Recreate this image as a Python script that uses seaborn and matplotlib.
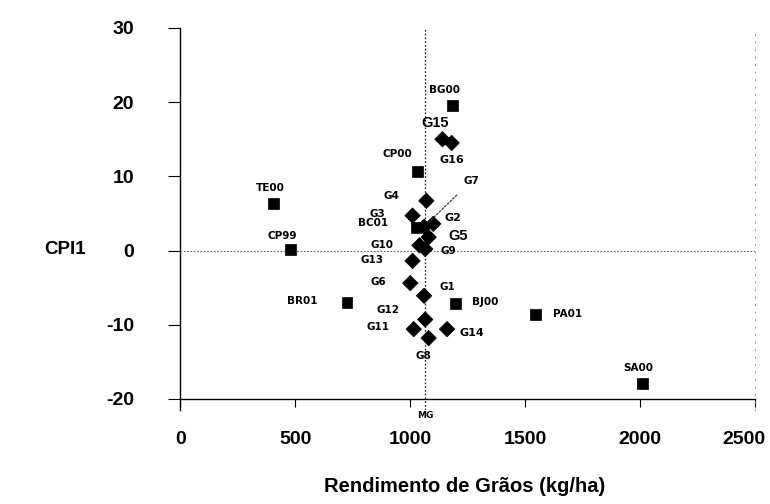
import numpy as np
import pandas as pd
import seaborn as sns
import matplotlib.pyplot as plt
import matplotlib.transforms as mtransforms

# data
env_names = ["BG00", "CP00", "TE00", "CP99", "BC01", "BR01", "BJ00", "PA01", "SA00"]
env_yield = [1185, 1030, 405, 480, 1025, 725, 1195, 1545, 2010]
env_cpi = [19.5, 10.7, 6.3, 0.1, 3.1, -7.0, -7.2, -8.6, -17.9]

gen_names = ["G15", "G16", "G7", "G4", "G3", "G2", "G5", "G10", "G9",
             "G13", "G6", "G1", "G12", "G11", "G14", "G8"]
gen_yield = [1140, 1180, 1060, 1070, 1010, 1100, 1080, 1040, 1065,
             1010, 1000, 1060, 1065, 1015, 1160, 1080]
gen_cpi = [15.0, 14.5, 3.2, 6.7, 4.7, 3.6, 1.8, 0.7, 0.2,
           -1.4, -4.4, -6.1, -9.3, -10.6, -10.6, -11.8]

mg_yield = 1065

df = pd.DataFrame({
    "nome": env_names + gen_names,
    "rend": env_yield + gen_yield,
    "cpi": env_cpi + gen_cpi,
    "tipo": ["amb"] * len(env_names) + ["gen"] * len(gen_names),
})

# label offsets in points (dx, dy)
offs = {
    "BG00": (-6, 11.5), "CP00": (-14, 12), "TE00": (-2, 11.5), "CP99": (-6, 10),
    "BC01": (-31, 3), "BR01": (-32, 1), "BJ00": (22, 1.5), "PA01": (23, 0.5),
    "SA00": (-3.5, 11), "G15": (-5, 11.5), "G16": (0, -12), "G4": (-25, 3.5),
    "G3": (-25, 1.5), "G2": (14.5, 4), "G5": (21, 1), "G10": (-27, 0),
    "G9": (16.5, -1.5), "G13": (-29, 0.7), "G6": (-23, 0.7), "G1": (17, 6.5),
    "G12": (-26.5, 6.5), "G11": (-26, 1.5), "G14": (18, -3), "G8": (-3.5, -13),
}
big = {"G2", "G16", "G14"}

sns.set_style("white")
plt.rcParams["font.family"] = ["Liberation Sans", "DejaVu Sans"]
plt.rcParams["axes.unicode_minus"] = False
for k in ["text.color", "axes.labelcolor", "xtick.color", "ytick.color"]:
    plt.rcParams[k] = "black"

fig = plt.figure(figsize=(7.7, 5.04), dpi=100)
ax = fig.add_axes([0.234, 0.1865, 0.747, 0.758])

ax.axhline(0, color="#666666", lw=0.8, ls=(0, (1.5, 1.5)), zorder=1)
ax.axvline(mg_yield, color="#222222", lw=0.9, ls=(0, (1.5, 1.5)), zorder=1)

sns.scatterplot(data=df, x="rend", y="cpi", style="tipo",
                markers={"amb": "s", "gen": "D"}, color="black",
                s=62, edgecolor="black", linewidth=0.5, legend=False,
                ax=ax, zorder=3)

lab_font = ["DejaVu Sans"]
for n, x, y in zip(df["nome"], df["rend"], df["cpi"]):
    if n == "G7":
        ax.annotate("G7", xy=(x, y), xytext=(34, 33), textcoords="offset points",
                    ha="center", va="center", fontsize=7.5, fontweight="bold",
                    family=lab_font,
                    arrowprops=dict(arrowstyle="-", ls=(0, (1.5, 1.5)), lw=0.9,
                                    color="#333333", shrinkA=6, shrinkB=4))
        continue
    dx, dy = offs[n]
    if n in ("G15", "G5"):
        ax.annotate(n, xy=(x, y), xytext=(dx, dy), textcoords="offset points",
                    ha="center", va="center", fontsize=10.5, fontweight="bold")
    else:
        ax.annotate(n, xy=(x, y), xytext=(dx, dy), textcoords="offset points",
                    ha="center", va="center", fontsize=8 if n in big else 7.5,
                    fontweight="bold", family=lab_font)

ax.annotate("MG", xy=(mg_yield, -20), xytext=(0, -12), textcoords="offset points",
            ha="center", va="center", fontsize=6.5, fontweight="bold",
            family=lab_font)

ax.set_xlim(0, 2500)
ax.set_ylim(-21.5, 30)
ax.set_xticks([0, 500, 1000, 1500, 2000, 2500])
ax.set_yticks([-20, -10, 0, 10, 20, 30])

ax.spines["top"].set_visible(False)
ax.spines["right"].set_linestyle((0, (1, 8)))
ax.spines["right"].set_linewidth(0.6)
ax.spines["right"].set_color("#777777")
ax.spines["left"].set_color("black")
ax.spines["left"].set_linewidth(1.0)
ax.spines["bottom"].set_color("black")
ax.spines["bottom"].set_linewidth(1.0)
ax.spines["bottom"].set_position(("data", -20))
ax.spines["bottom"].set_bounds(0, 2500)

ax.tick_params(axis="y", direction="out", length=9, width=0.8, pad=24,
               labelsize=14, left=True)
ax.tick_params(axis="x", direction="out", length=6, width=0.8, pad=17,
               labelsize=14, bottom=True)
for lab in ax.get_xticklabels() + ax.get_yticklabels():
    lab.set_fontweight("bold")
# last x label sits a little to the left, as in the original
last = ax.get_xticklabels()[-1]
last.set_transform(last.get_transform() +
                   mtransforms.ScaledTranslation(-8 / 72, 0, fig.dpi_scale_trans))

ax.set_xlabel("Rendimento de Grãos (kg/ha)", fontsize=14.5, fontweight="bold")
ax.set_ylabel("CPI1", fontsize=13.5, fontweight="bold", rotation=0,
              va="center", ha="center")
ax.yaxis.set_label_coords(-0.2, 0.419)
ax.xaxis.set_label_coords(0.494, -0.176)

fig.savefig("out.png", dpi=100)
